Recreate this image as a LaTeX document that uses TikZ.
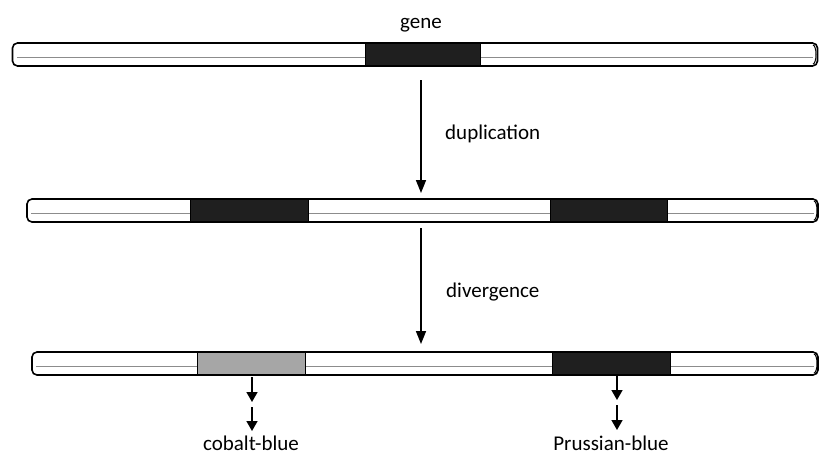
\documentclass[tikz,border=0pt]{standalone}
\usepackage{fontspec}
\setmainfont{Carlito}
\usetikzlibrary{arrows.meta}
\begin{document}
\begin{tikzpicture}[x=1pt,y=-1pt,
  chrom/.style={draw=black,line width=1.6pt,rounded corners=5pt,fill=white,inner sep=0pt,minimum height=23pt},
  darkgene/.style={draw=black,line width=1pt,fill=black!88,inner sep=0pt,minimum height=22pt},
  lightgene/.style={draw=black,line width=1pt,fill=black!35,inner sep=0pt,minimum height=22pt},
  lbl/.style={font=\fontsize{21}{24}\selectfont,inner sep=1pt},
  bigarrow/.style={line width=1.6pt,-{Triangle[length=13pt,width=10pt]}},
  smallarrow/.style={line width=1.6pt,-{Triangle[length=10pt,width=11pt]}},
  inner/.style={draw=black!45,line width=0.6pt}
]
\useasboundingbox (0,0) rectangle (819,456);
% chromosome 1
\node[chrom,minimum width=805pt] (c1) at (415,54.5) {};
\draw[inner] (17,57) -- (813,57);
\node[darkgene,minimum width=115pt] (g1) at (422.5,54.5) {};
\draw[line width=1pt] (813,45) arc[start angle=-90,end angle=90,x radius=3pt,y radius=-9.5pt];
\node[lbl] (t1) at (421,25) {gene};
% chromosome 2
\node[chrom,minimum width=791pt] (c2) at (422.5,210.5) {};
\draw[inner] (31,213) -- (814,213);
\node[darkgene,minimum width=118pt] (g2a) at (249,210.5) {};
\node[darkgene,minimum width=117pt] (g2b) at (608.5,210.5) {};
\draw[line width=1pt] (814,201) arc[start angle=-90,end angle=90,x radius=3pt,y radius=-9.5pt];
% chromosome 3
\node[chrom,minimum width=786pt] (c3) at (425,363.5) {};
\draw[inner] (36,366) -- (814,366);
\node[lightgene,minimum width=108pt] (g3a) at (251,363.5) {};
\node[darkgene,minimum width=118pt] (g3b) at (611,363.5) {};
\draw[line width=1pt] (814,354) arc[start angle=-90,end angle=90,x radius=3pt,y radius=-9.5pt];
% main arrows
\coordinate (a1s) at (421,80);
\coordinate (a1e) at (421,193);
\draw[bigarrow] (a1s) -- (a1e);
\node[lbl,anchor=west] (d1) at (444,134) {duplication};
\coordinate (a2s) at (421,228);
\coordinate (a2e) at (421,344);
\draw[bigarrow] (a2s) -- (a2e);
\node[lbl,anchor=west] (d2) at (445,292) {divergence};
% product arrows
\node[lbl] (cb) at (251,443) {cobalt-blue};
\node[lbl] (pb) at (611,443) {Prussian-blue};
\coordinate (p1a) at (252,377);
\coordinate (p1b) at (252,402);
\coordinate (p1c) at (252,407);
\coordinate (p1d) at (252,431);
\draw[smallarrow] (p1a) -- (p1b);
\draw[smallarrow] (p1c) -- (p1d);
\coordinate (p2a) at (617,375);
\coordinate (p2b) at (617,400);
\coordinate (p2c) at (617,405);
\coordinate (p2d) at (617,430);
\draw[smallarrow] (p2a) -- (p2b);
\draw[smallarrow] (p2c) -- (p2d);
\end{tikzpicture}
\end{document}
